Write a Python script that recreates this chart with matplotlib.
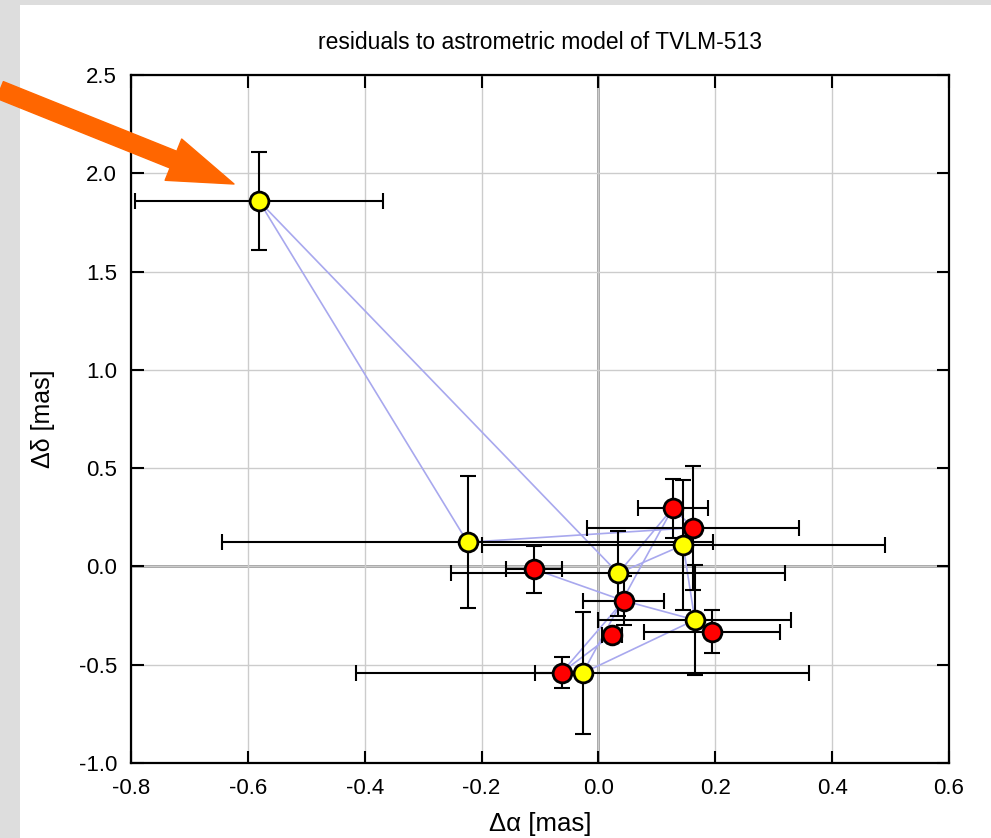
"""Residuals to the astrometric model of TVLM-513 (yellow / red epochs)."""
import matplotlib

matplotlib.use("Agg")
import matplotlib.pyplot as plt
from matplotlib.patches import FancyArrowPatch, Rectangle

plt.rcParams["font.family"] = ["Liberation Sans", "DejaVu Sans"]

# yellow epochs: offsets and 1-sigma errors [mas]
yel_x = [-0.581, -0.224, 0.034, 0.145, 0.165, -0.027]
yel_y = [1.859, 0.123, -0.035, 0.109, -0.272, -0.543]
yel_xerr = [0.212, 0.420, 0.286, 0.345, 0.165, 0.388]
yel_yerr = [0.247, 0.335, 0.215, 0.330, 0.280, 0.310]

# red epochs
red_x = [0.127, 0.162, -0.110, 0.043, 0.023, 0.194, -0.063]
red_y = [0.296, 0.197, -0.014, -0.174, -0.348, -0.332, -0.540]
red_xerr = [0.060, 0.181, 0.048, 0.070, 0.017, 0.116, 0.045]
red_yerr = [0.150, 0.316, 0.120, 0.124, 0.020, 0.110, 0.080]

# thin connecting lines between points: (group, index) pairs
links = [
    (("y", 0), ("y", 1)),
    (("y", 0), ("y", 2)),
    (("y", 1), ("r", 1)),
    (("y", 2), ("r", 0)),
    (("y", 2), ("y", 3)),
    (("r", 2), ("r", 3)),
    (("r", 3), ("y", 4)),
    (("y", 3), ("y", 4)),
    (("y", 4), ("y", 5)),
    (("r", 6), ("r", 3)),
    (("r", 6), ("r", 4)),
    (("y", 5), ("r", 0)),
    (("r", 0), ("r", 1)),
]

W, H, DPI = 991, 838, 100


def _pt(key):
    grp, i = key
    if grp == "y":
        return yel_x[i], yel_y[i]
    return red_x[i], red_y[i]


fig = plt.figure(figsize=(W / DPI, H / DPI), dpi=DPI, facecolor="#dddddd")
# white panel inside the grey frame (behind everything)
fig.patches.append(
    Rectangle((20 / W, 0), 1 - 20 / W, 1 - 5 / H, transform=fig.transFigure,
              facecolor="white", edgecolor="none", zorder=-5)
)

ax = fig.add_axes([131 / W, 1 - 763 / H, (949 - 131) / W, (763 - 75) / H])
ax.set_xlim(-0.8, 0.6)
ax.set_ylim(-1.0, 2.5)
ax.set_xticks([-0.8, -0.6, -0.4, -0.2, 0.0, 0.2, 0.4, 0.6])
ax.set_yticks([-1.0, -0.5, 0.0, 0.5, 1.0, 1.5, 2.0, 2.5])
ax.xaxis.set_major_formatter(matplotlib.ticker.FormatStrFormatter("%.1f"))
ax.yaxis.set_major_formatter(matplotlib.ticker.FormatStrFormatter("%.1f"))
ax.grid(True, color="#cccccc", lw=1.0, zorder=0)
ax.axhline(0, color="#9a9a9a", lw=2.0, zorder=0.5)
ax.axvline(0, color="#9a9a9a", lw=2.0, zorder=0.5)
ax.set_axisbelow(True)

for a, b in links:
    (x0, y0), (x1, y1) = _pt(a), _pt(b)
    ax.plot([x0, x1], [y0, y1], color="#a8a8ee", lw=1.2, zorder=1)

for xs, ys, xe, ye in ((red_x, red_y, red_xerr, red_yerr),
                       (yel_x, yel_y, yel_xerr, yel_yerr)):
    ax.errorbar(xs, ys, xerr=xe, yerr=ye, fmt="none", ecolor="black",
                elinewidth=1.5, capsize=6, capthick=1.5, zorder=2)

ax.plot(red_x, red_y, "o", ms=13.5, mfc="#ff0000", mec="black", mew=2.0,
        ls="none", zorder=3)
ax.plot(yel_x, yel_y, "o", ms=13.5, mfc="#ffff00", mec="black", mew=2.0,
        ls="none", zorder=4)

for s in ax.spines.values():
    s.set_linewidth(1.6)
ax.tick_params(direction="in", length=9, width=1.5, top=True, right=True,
               labelsize=16)
ax.tick_params(axis="x", pad=11)
ax.tick_params(axis="y", pad=10)

ax.set_title("residuals to astrometric model of TVLM-513", fontsize=16.5,
             pad=19)
ax.set_xlabel("Δα [mas]", fontsize=18.5, labelpad=9)
ax.set_ylabel("Δδ [mas]", fontsize=18, labelpad=17)

# orange pointer at the outlying epoch
arrow = FancyArrowPatch(
    (0 / W, 1 - 90 / H), (234 / W, 1 - 184 / H), transform=fig.transFigure,
    arrowstyle="simple,head_length=47,head_width=32,tail_width=13",
    mutation_scale=1, color="#ff6600", shrinkA=0, shrinkB=0, zorder=10,
)
fig.patches.append(arrow)

fig.savefig("out.png", dpi=DPI, facecolor=fig.get_facecolor())
